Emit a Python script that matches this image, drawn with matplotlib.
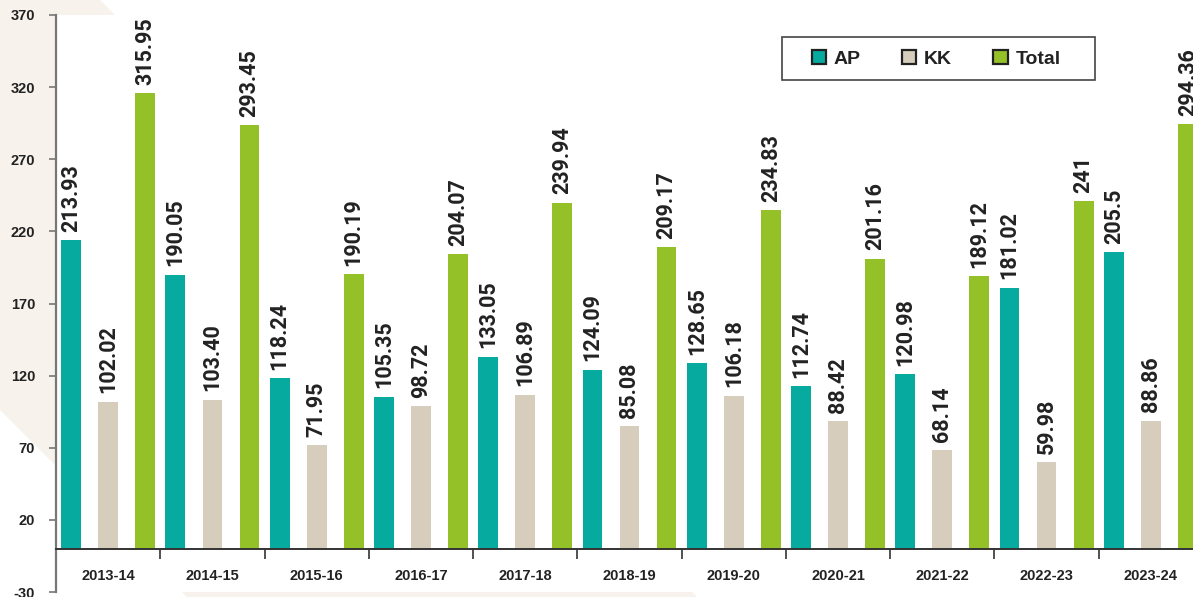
import numpy as np
import matplotlib
matplotlib.use("Agg")
import matplotlib.pyplot as plt
from matplotlib.patches import Patch, Polygon, Rectangle

# data
years = ["2013-14", "2014-15", "2015-16", "2016-17", "2017-18", "2018-19",
         "2019-20", "2020-21", "2021-22", "2022-23", "2023-24"]
ap = ["213.93", "190.05", "118.24", "105.35", "133.05", "124.09",
      "128.65", "112.74", "120.98", "181.02", "205.5"]
kk = ["102.02", "103.40", "71.95", "98.72", "106.89", "85.08",
      "106.18", "88.42", "68.14", "59.98", "88.86"]
total = ["315.95", "293.45", "190.19", "204.07", "239.94", "209.17",
         "234.83", "201.16", "189.12", "241", "294.36"]
series_names = ["AP", "KK", "Total"]
colors = ["#07aa9f", "#d6cdbd", "#94c127"]
yticks = list(range(-30, 371, 50))

W, H = 1193, 597
fig = plt.figure(figsize=(W / 100, H / 100), dpi=100)
fig.patch.set_facecolor("white")

# beige diagonal band behind the chart (pixel coords, y down)
band = [(100, 0), (697, 597), (187, 597), (0, 410), (0, 0)]
fig.patches.append(Polygon([(x / W, 1 - y / H) for x, y in band], closed=True,
                           transform=fig.transFigure, facecolor="#f7f3ec",
                           edgecolor="none", zorder=0))

ax = fig.add_axes([56 / W, 1 - 592 / H, (1203 - 56) / W, (592 - 15) / H])
ax.set_facecolor("white")
ax.set_zorder(1)

x = np.arange(len(years))
offsets = [-0.355, 0.0, 0.355]
width = 0.19
label_font = dict(family=["Liberation Sans Narrow", "Roboto", "DejaVu Sans"],
                  weight="bold", size=15.5, color="#222222")

for vals, off, col in zip([ap, kk, total], offsets, colors):
    nums = [float(v) for v in vals]
    bars = ax.bar(x + off, nums, width, color=col, edgecolor="none", zorder=2)
    for b, txt in zip(bars, vals):
        ax.annotate(txt, (b.get_x() + b.get_width() / 2, b.get_height()),
                    xytext=(0, 6), textcoords="offset points",
                    ha="center", va="bottom", rotation=90, **label_font,
                    annotation_clip=False)

ax.set_xlim(-0.5, len(years) - 0.5)
ax.set_ylim(-30, 370)

tick_font = dict(family=["Liberation Sans", "DejaVu Sans"], weight="bold", size=10.5)

ax.set_yticks(yticks)
ax.set_yticklabels([str(t) for t in yticks], **tick_font, color="#222222")
ax.tick_params(axis="y", length=5, width=1.2, color="#777777", pad=10)

ax.set_xticks(x - 0.5)
ax.set_xticklabels([])
ax.tick_params(axis="x", length=7, width=1.2, color="#333333", direction="out")
for i, yr in enumerate(years):
    ax.text(i, -19, yr, ha="center", va="center", **tick_font, color="#222222")

for s in ["top", "right"]:
    ax.spines[s].set_visible(False)
ax.spines["left"].set_color("#777777")
ax.spines["left"].set_linewidth(1.6)
ax.spines["bottom"].set_position(("data", 0))
ax.spines["bottom"].set_color("#333333")
ax.spines["bottom"].set_linewidth(1.4)

# legend box drawn by hand, legend itself frameless
fig.patches.append(Rectangle((782 / W, 1 - 80 / H), (1095 - 782) / W, 43 / H,
                             transform=fig.transFigure, facecolor="white",
                             edgecolor="#444444", linewidth=1.2, zorder=3))
handles = [Patch(facecolor=c, edgecolor="#222222", linewidth=1.6) for c in colors]
leg = fig.legend(handles, series_names, loc="center", ncol=3,
                 bbox_to_anchor=(936 / W, 1 - 59 / H), frameon=False,
                 handlelength=0.75, handleheight=0.75, handletextpad=0.4,
                 columnspacing=2.1, borderpad=0,
                 prop=dict(family=["Liberation Sans", "DejaVu Sans"], weight="bold", size=14))
leg.set_zorder(4)
for t in leg.get_texts():
    t.set_color("#222222")

fig.savefig("out.png", dpi=100)
